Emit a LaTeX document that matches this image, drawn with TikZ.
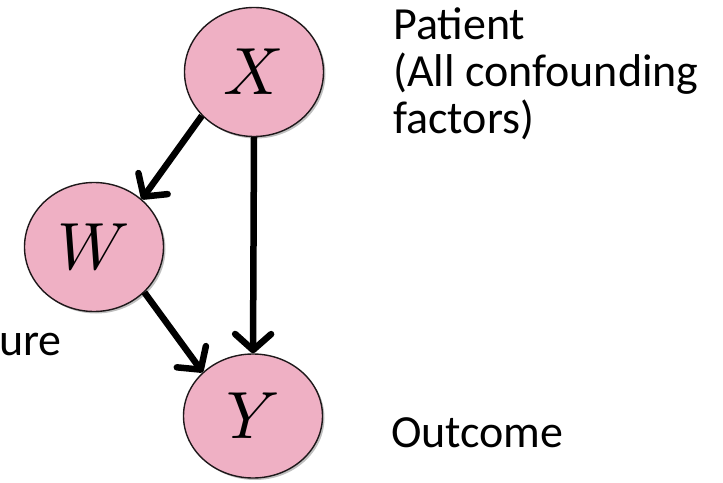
\documentclass[tikz,border=0pt]{standalone}
\usepackage{graphicx}
\usepackage{fontspec}
\setmainfont{Carlito}
\usetikzlibrary{arrows.meta,shapes.geometric,shadows}

\definecolor{nodepink}{RGB}{239,176,196}
\definecolor{nodeedge}{RGB}{30,24,26}

% large math-italic variable letter
\newcommand{\bigvar}[1]{\scalebox{6.7}{$#1$}}

\tikzset{
  varnode/.style={ellipse, draw=nodeedge, line width=1.4bp, fill=nodepink,
    minimum width=139bp, minimum height=129bp, inner sep=0pt,
    drop shadow={shadow xshift=2bp, shadow yshift=-2bp, opacity=0.25, fill=black}},
  edgearrow/.style={line width=6.5bp, draw=black,
    -{Straight Barb[length=16bp, width=36bp, line width=6.5bp, round]}},
  caption/.style={inner sep=0pt, font=\fontsize{46bp}{47bp}\selectfont, align=left}
}

\begin{document}
\begin{tikzpicture}[x=1bp, y=-1bp]
  \useasboundingbox (0,0) rectangle (723,483);

  % causal graph
  \node[varnode] (X) at (254,72)  {\bigvar{X}};
  \node[varnode] (W) at (94,247)  {\bigvar{W}};
  \node[varnode, minimum height=124bp] (Y) at (253,416) {\bigvar{Y}};

  \draw[edgearrow] (X.220) -- (W.45);
  \draw[edgearrow] (X.south) -- (Y.north);
  \draw[edgearrow] (W.318) -- (Y.139);

  % labels (multi-line node: base anchor sits on the last line)
  \node[caption, anchor=base west] (patient) at (393,134) {Patient\\(All confounding\\factors)};
  \node[caption, anchor=base east] (exposure) at (62,355) {ure};
  \node[caption, anchor=base west] (outcome) at (391,447) {Outcome};
\end{tikzpicture}
\end{document}
